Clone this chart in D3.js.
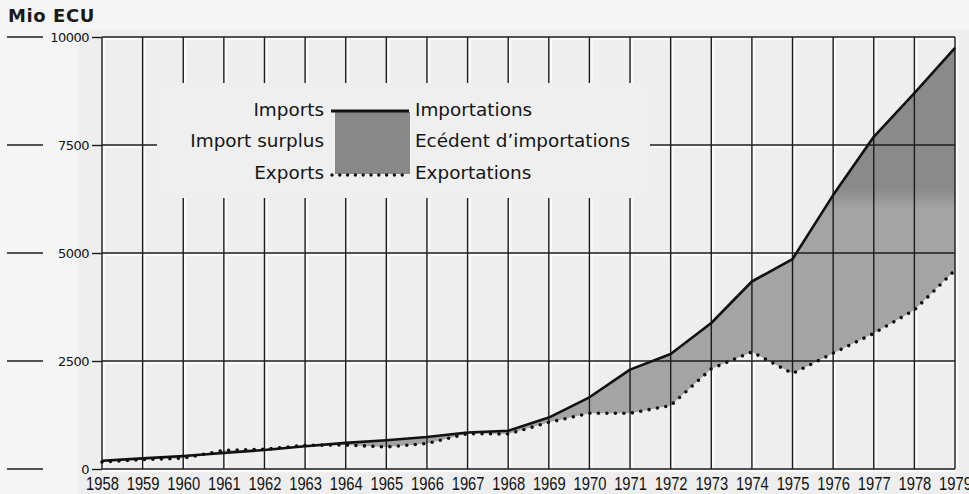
<!DOCTYPE html>
<html>
<head>
<meta charset="utf-8">
<script src="https://cdn.jsdelivr.net/npm/d3@7"></script>
<style>
    body {margin: 0; background: #f5f5f5;}
    svg {display: block;}
    .ylab text {font-family: "DejaVu Sans", sans-serif; font-size: 13px; letter-spacing: -0.5px; fill: #111;}
    .xlab text {font-family: "Liberation Sans", sans-serif; font-size: 18px; fill: #111;}
    .legend text {font-family: "DejaVu Sans", sans-serif; font-size: 18.4px; fill: #151515;}
    .unit {font-family: "DejaVu Sans", sans-serif; font-size: 18px; font-weight: bold; letter-spacing: 0.6px; fill: #1a1a1a;}
</style>
</head>
<body>
<div id="chart"></div>
<script>
const years = [1958, 1959, 1960, 1961, 1962, 1963, 1964, 1965, 1966, 1967, 1968,
    1969, 1970, 1971, 1972, 1973, 1974, 1975, 1976, 1977, 1978, 1979];
const imports = [190, 245, 300, 370, 440, 525, 605, 665, 740, 845, 885,
    1190, 1660, 2300, 2660, 3380, 4340, 4860, 6340, 7690, 8700, 9750];
const exports_ = [160, 220, 250, 430, 455, 550, 555, 510, 590, 820, 810,
    1080, 1290, 1290, 1470, 2320, 2710, 2210, 2680, 3140, 3680, 4600];
const yTicks = [0, 2500, 5000, 7500, 10000];

const W = 969, H = 494;
const margin = {top: 37, right: 14, bottom: 25, left: 102};
const width = W - margin.left - margin.right,
    height = H - margin.top - margin.bottom;

const svg = d3.select("#chart").append("svg")
    .attr("width", W)
    .attr("height", H);

// paper
svg.append("rect").attr("x", 0).attr("y", 0).attr("width", W).attr("height", H).attr("fill", "#f5f5f5");
svg.append("rect").attr("x", 78).attr("y", 30).attr("width", W - 78).attr("height", H - 30).attr("fill", "#eeeeee");

const defs = svg.append("defs");
// gradient is in the plot group's coordinates
const grad = defs.append("linearGradient")
    .attr("id", "surplus")
    .attr("gradientUnits", "userSpaceOnUse")
    .attr("x1", 0).attr("x2", 0).attr("y1", 152).attr("y2", 172);
grad.append("stop").attr("offset", 0).attr("stop-color", "#8a8a8a");
grad.append("stop").attr("offset", 1).attr("stop-color", "#a4a4a4");

const g = svg.append("g")
    .attr("transform", "translate(" + margin.left + "," + margin.top + ")");

let x = d3.scaleLinear()
    .domain([years[0], years[years.length - 1]])
    .range([0, width]);
let y = d3.scaleLinear()
    .domain([0, 10000])
    .range([height, 0]);

// white halo beside the grid lines (scan look)
const halo = g.append("g").attr("stroke", "#fafafa").attr("stroke-width", 2.5);
halo.selectAll(".hv").data(years).enter().append("line")
    .attr("x1", d => x(d) + 2).attr("x2", d => x(d) + 2)
    .attr("y1", 0).attr("y2", height);
halo.selectAll(".hh").data(yTicks).enter().append("line")
    .attr("x1", 0).attr("x2", width)
    .attr("y1", d => y(d) + 2).attr("y2", d => y(d) + 2);

// import surplus area
g.append("path")
    .datum(years)
    .attr("fill", "url(#surplus)")
    .attr("d", d3.area()
        .x(function (d, i) { return x(d) })
        .y0(function (d, i) { return y(exports_[i]) })
        .y1(function (d, i) { return y(imports[i]) })
    );

// grid
const grid = g.append("g").attr("stroke", "#1c1c1c").attr("stroke-width", 1.4);
grid.selectAll(".v").data(years).enter().append("line")
    .attr("x1", d => x(d)).attr("x2", d => x(d))
    .attr("y1", 0).attr("y2", height);
grid.selectAll(".h").data(yTicks).enter().append("line")
    .attr("x1", 0).attr("x2", width)
    .attr("y1", d => y(d)).attr("y2", d => y(d));

// blank patch under the legend
g.append("rect")
    .attr("x", 157 - margin.left).attr("y", 83 - margin.top)
    .attr("width", 493).attr("height", 115)
    .attr("fill", "#efefef");

// y axis
g.append("g")
    .attr("class", "ylab")
    .call(d3.axisLeft(y)
        .tickValues(yTicks)
        .tickFormat(d3.format("d"))
        .tickSizeInner(10)
        .tickSizeOuter(0)
        .tickPadding(3)
    )
    .call(s => s.select(".domain").remove())
    .call(s => s.selectAll("line").attr("stroke", "#1c1c1c").attr("stroke-width", 1.4));

// long dashes at the far left
g.selectAll(".dash").data(yTicks).enter().append("line")
    .attr("x1", 7 - margin.left).attr("x2", 43 - margin.left)
    .attr("y1", d => y(d)).attr("y2", d => y(d))
    .attr("stroke", "#1c1c1c").attr("stroke-width", 1.4);

// x axis
g.append("g")
    .attr("class", "xlab")
    .attr("transform", "translate(0," + height + ")")
    .call(d3.axisBottom(x)
        .tickValues(years)
        .tickFormat(d3.format("d"))
        .tickSize(0)
        .tickPadding(8)
    )
    .call(s => s.select(".domain").remove())
    .call(s => s.selectAll("text").attr("transform", "scale(0.82,1)"));

// exports dotted
g.append("path")
    .datum(years)
    .attr("fill", "none")
    .attr("stroke", "#111")
    .attr("stroke-width", 3.6)
    .attr("stroke-linecap", "round")
    .attr("stroke-dasharray", "0,8.5")
    .attr("d", d3.line()
        .x(function (d) { return x(d) })
        .y(function (d, i) { return y(exports_[i]) })
    );

// imports solid
g.append("path")
    .datum(years)
    .attr("fill", "none")
    .attr("stroke", "#111")
    .attr("stroke-width", 2.6)
    .attr("stroke-linejoin", "round")
    .attr("d", d3.line()
        .x(function (d) { return x(d) })
        .y(function (d, i) { return y(imports[i]) })
    );

svg.append("text")
    .attr("class", "unit")
    .attr("x", 8).attr("y", 22)
    .text("Mio ECU");

// legend
const lg = svg.append("g").attr("class", "legend");
lg.append("rect")
    .attr("x", 335).attr("y", 112).attr("width", 75).attr("height", 62)
    .attr("fill", "#888");
lg.append("line")
    .attr("x1", 331).attr("x2", 409).attr("y1", 111).attr("y2", 111)
    .attr("stroke", "#111").attr("stroke-width", 3);
lg.append("line")
    .attr("x1", 332).attr("x2", 410).attr("y1", 175).attr("y2", 175)
    .attr("stroke", "#111").attr("stroke-width", 3.4)
    .attr("stroke-linecap", "round").attr("stroke-dasharray", "0,7.8");

const leftLabels = ["Imports", "Import surplus", "Exports"];
const rightLabels = ["Importations", "Ecédent d\u2019importations", "Exportations"];
const rowY = [116, 147, 179];
lg.selectAll(".ll").data(leftLabels).enter().append("text")
    .attr("x", 324).attr("y", (d, i) => rowY[i])
    .attr("text-anchor", "end")
    .text(d => d);
lg.selectAll(".rl").data(rightLabels).enter().append("text")
    .attr("x", 415).attr("y", (d, i) => rowY[i])
    .text(d => d);
</script>
</body>
</html>
